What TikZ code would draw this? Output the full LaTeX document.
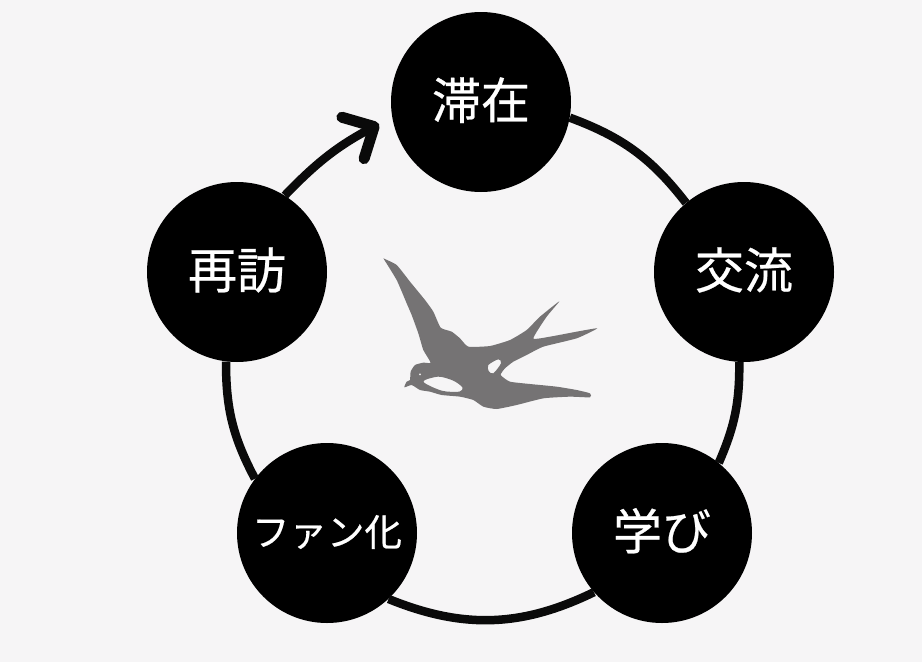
\documentclass[tikz,border=0pt]{standalone}
\usepackage{fontspec}
\newfontfamily\cjk{Noto Sans CJK JP}[FakeBold=0.5]
\usetikzlibrary{arrows.meta}
\definecolor{paper}{HTML}{F6F5F6}
\definecolor{birdgray}{HTML}{757374}
\definecolor{ringblack}{HTML}{0A0A0A}
\tikzset{
    stage/.style={circle, fill=black, minimum size=180pt, inner sep=0pt, text=white,
        text height=40pt, text depth=7pt, font=\cjk\fontsize{49}{49}\selectfont},
    ring/.style={draw=ringblack, line width=8.5pt},
}
\begin{document}
\begin{tikzpicture}[x=1pt, y=-1pt]
    % Background
    \fill[paper] (0,0) rectangle (922,662);
    \useasboundingbox (0,0) rectangle (922,662);

    % Stages of the cycle
    \node[stage] (stay) at (481,102) {滞在};
    \node[stage] (exchange) at (744,272) {交流};
    \node[stage] (learn) at (662,533) {学び};
    \node[stage, text height=34pt, text depth=8pt, font=\cjk\fontsize{37.5}{37.5}\selectfont] (fan) at (327,533) {ファン化};
    \node[stage] (revisit) at (237,272) {再訪};
    \coordinate (arrowend) at (379,124);

    % Ring between the stages
    \draw[ring] (stay.-10) to[bend left=16] (exchange.130);
    \draw[ring] (exchange.267) to[bend left=12] (learn.51);
    \draw[ring] (learn.221) to[bend left=24] (fan.-47);
    \draw[ring] (fan.143) to[bend left=14] (revisit.263);
    \draw[ring, -{Straight Barb[round, length=24pt, width=47pt, line width=11pt]}]
        (revisit.58) to[bend left=9] (arrowend);

    % Swallow
    \begin{scope}[shift={(370,240)}, scale=1/3]
        \fill[birdgray, even odd rule]
            plot[smooth, tension=0.3] coordinates {(40,55) (80,75) (120,125) (165,180) (190,215) (212,263)
                (245,275) (270,295) (295,320) (360,318) (420,300) (470,270) (510,230) (568,184)
                (530,230) (490,295) (540,290) (620,275) (682,265) (620,295) (520,320) (470,345)
                (430,365) (405,385) (392,405) (420,425) (480,432) (560,440) (620,450) (660,460)
                (660,472) (600,470) (520,475) (440,495) (380,507) (340,500) (310,480) (270,470)
                (215,465) (180,455) (150,450) (125,435) (103,442) (110,425) (120,420) (122,395)
                (135,375) (160,368) (182,368) (160,330) (145,280) (125,225) (110,190) (80,120) (40,55)}
            plot[smooth cycle, tension=0.5] coordinates {(160,425) (205,410) (250,422) (277,442) (268,455) (215,452)}
            plot[smooth cycle, tension=0.5] coordinates {(355,375) (385,358) (393,370) (370,400) (356,393)}
            (150,403) circle (4);
    \end{scope}
\end{tikzpicture}
\end{document}
